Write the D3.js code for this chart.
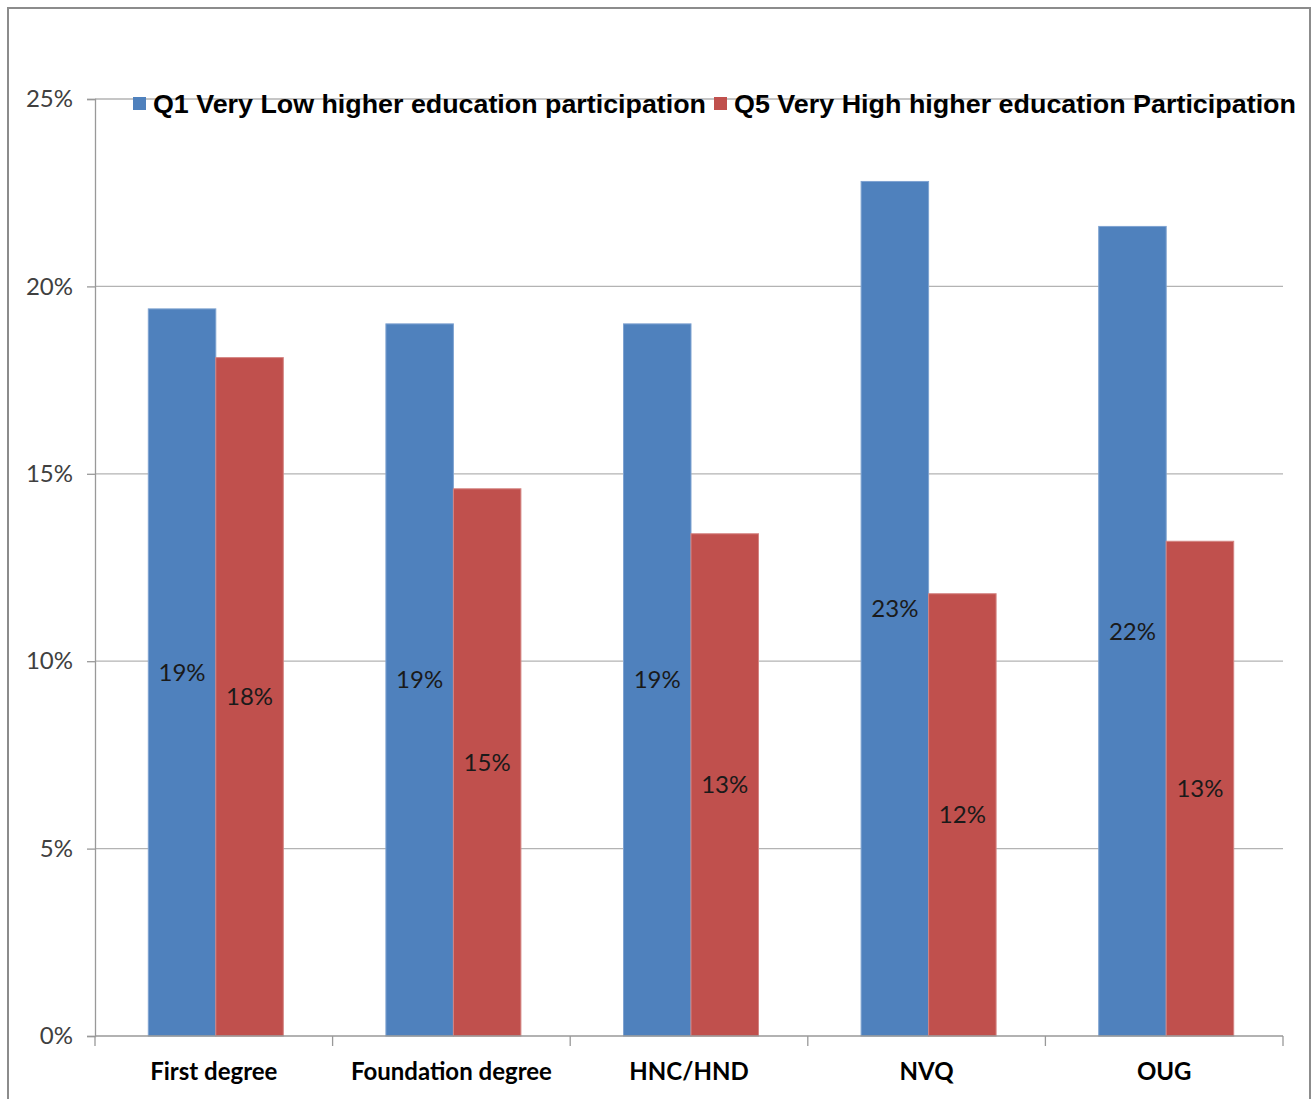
<!DOCTYPE html>
<html>
<head>
<meta charset="utf-8">
<script src="https://cdn.jsdelivr.net/npm/d3@7"></script>
<style>
  body { margin: 0; background: #fff; }
  svg { display: block; }
</style>
</head>
<body>
<div id="chart"></div>
<script>
// chart data
const categories = ["First degree", "Foundation degree", "HNC/HND", "NVQ", "OUG"];
const seriesNames = ["Q1 Very Low higher education participation", "Q5 Very High higher education Participation"];
const q1Values = [0.194, 0.190, 0.190, 0.228, 0.216];
const q5Values = [0.181, 0.146, 0.134, 0.118, 0.132];
const yTicks = [0, 0.05, 0.10, 0.15, 0.20, 0.25];

const width = 1314, height = 1099;
const colors = ["#4F81BD", "#C0504D"];

const svg = d3.select("#chart").append("svg")
    .attr("width", width)
    .attr("height", height);

// outer chart border
svg.append("rect")
    .attr("x", 8).attr("y", 8)
    .attr("width", 1302).attr("height", 1100)
    .attr("fill", "none")
    .attr("stroke", "#8c8c8c")
    .attr("stroke-width", 2);

const plot = { left: 95, right: 1283, top: 99, bottom: 1036 };

const x = d3.scaleBand()
    .domain(categories)
    .range([plot.left, plot.right])
    .paddingInner(0)
    .paddingOuter(0);

const x1 = d3.scaleBand()
    .domain([0, 1])
    .range([2, x.bandwidth() + 2])
    .paddingOuter(0.76)
    .paddingInner(0);

const y = d3.scaleLinear()
    .domain([0, 0.25])
    .range([plot.bottom, plot.top]);

const labelFont = "Lato, 'Open Sans', sans-serif";

// gridlines
svg.append("g")
    .selectAll("line")
    .data(yTicks.slice(1))
    .enter().append("line")
    .attr("x1", plot.left).attr("x2", plot.right)
    .attr("y1", d => y(d)).attr("y2", d => y(d))
    .attr("stroke", "#b3b3b3")
    .attr("stroke-width", 1.3);

// y axis
const yAxis = svg.append("g")
    .attr("transform", `translate(${plot.left},0)`)
    .call(d3.axisLeft(y).tickValues(yTicks).tickFormat(d3.format(".0%")).tickSize(8).tickPadding(14));
yAxis.select(".domain").attr("stroke", "#999").attr("stroke-width", 1.3);
yAxis.selectAll(".tick line").attr("stroke", "#999").attr("stroke-width", 1.3);
yAxis.selectAll("text")
    .attr("fill", "#404040")
    .style("font-family", labelFont)
    .style("font-size", "24px");

// bars
const groups = svg.append("g")
    .selectAll("g")
    .data(categories)
    .enter().append("g")
    .attr("transform", d => `translate(${x(d)},0)`);

const barData = (c, i) => [
    { s: 0, v: q1Values[i] },
    { s: 1, v: q5Values[i] }
];

groups.selectAll("rect")
    .data(barData)
    .enter().append("rect")
    .attr("x", d => x1(d.s))
    .attr("width", x1.bandwidth())
    .attr("y", d => y(d.v))
    .attr("height", d => y(0) - y(d.v))
    .attr("fill", d => colors[d.s])
    .attr("stroke", d => d.s === 0 ? "#7fa3d1" : "#d48482")
    .attr("stroke-width", 1);

// data labels
groups.selectAll("text")
    .data(barData)
    .enter().append("text")
    .attr("x", d => x1(d.s) + x1.bandwidth() / 2)
    .attr("y", d => (y(d.v) + y(0)) / 2)
    .attr("dy", "0.35em")
    .attr("text-anchor", "middle")
    .attr("fill", "#1a1a1a")
    .style("font-family", labelFont)
    .style("font-size", "24px")
    .text(d => d3.format(".0%")(d.v));

// x axis
const xAxis = svg.append("g")
    .attr("transform", `translate(0,${plot.bottom})`);
xAxis.append("line")
    .attr("x1", plot.left).attr("x2", plot.right)
    .attr("stroke", "#999").attr("stroke-width", 1.3);
xAxis.selectAll(".tk")
    .data(categories.map(c => x(c)).concat([plot.right]))
    .enter().append("line")
    .attr("class", "tk")
    .attr("x1", d => d).attr("x2", d => d)
    .attr("y1", 0).attr("y2", 10)
    .attr("stroke", "#999").attr("stroke-width", 1.3);
xAxis.selectAll("text")
    .data(categories)
    .enter().append("text")
    .attr("x", d => x(d) + x.bandwidth() / 2)
    .attr("y", 44)
    .attr("text-anchor", "middle")
    .attr("fill", "#000")
    .style("font-family", labelFont)
    .style("font-weight", "bold")
    .style("font-size", "24px")
    .text(d => d);

// legend
const legend = svg.append("g").attr("transform", "translate(133,104)");
const legendX = [0, 581];
const legendLen = [553, 562];
seriesNames.forEach((name, i) => {
    const g = legend.append("g").attr("transform", `translate(${legendX[i]},0)`);
    g.append("rect")
        .attr("x", 0).attr("y", -7)
        .attr("width", 13).attr("height", 13)
        .attr("fill", colors[i]);
    g.append("text")
        .attr("x", 20)
        .attr("dy", "0.36em")
        .attr("fill", "#000")
        .attr("textLength", legendLen[i])
        .attr("lengthAdjust", "spacingAndGlyphs")
        .style("font-family", "'Liberation Sans', Arial, sans-serif")
        .style("font-weight", "bold")
        .style("font-size", "26px")
        .text(name);
});
</script>
</body>
</html>
